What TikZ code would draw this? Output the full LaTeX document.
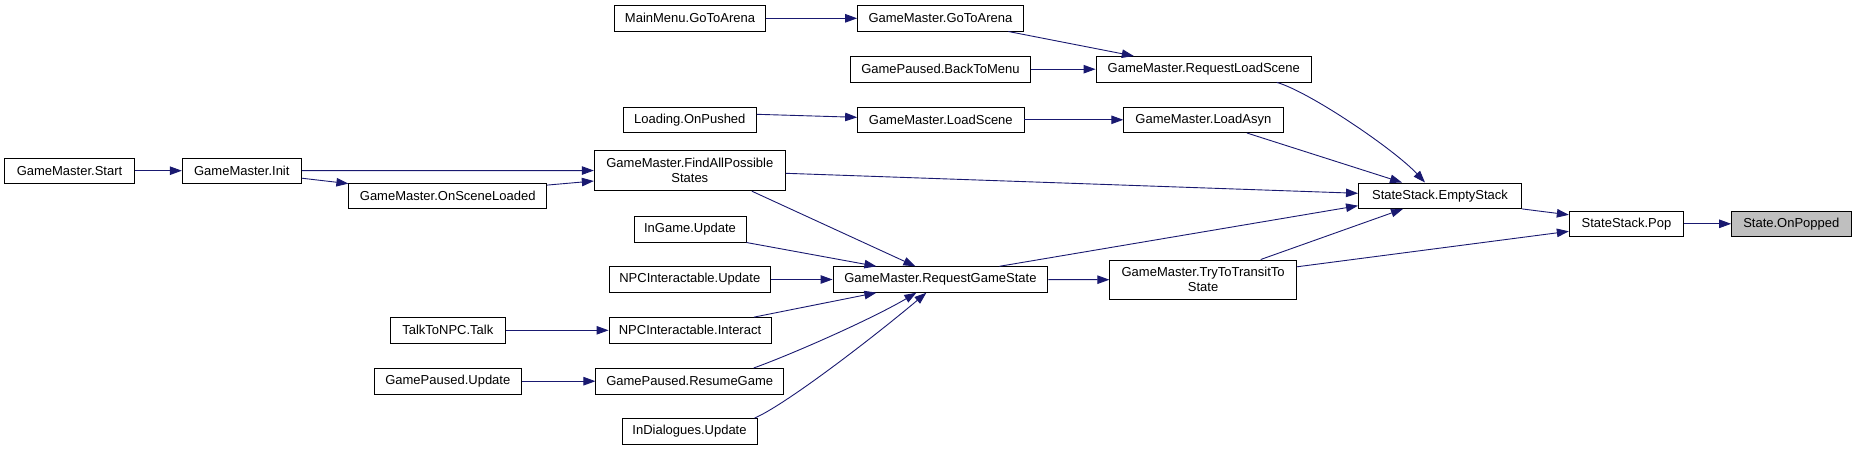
\documentclass[tikz,border=0pt]{standalone}
\usepackage{fontspec}
\setmainfont{Liberation Sans}
\usetikzlibrary{arrows.meta}

\begin{document}
\begin{tikzpicture}[
    x=1pt, y=-1pt,
    fnbox/.style={rectangle, draw=black, fill=white, line width=0.9pt, minimum height=25.5pt, inner sep=1pt, align=center, font=\fontsize{13}{15}\selectfont},
    callarrow/.style={draw=calledge, line width=0.9pt, -{Triangle[length=12pt, width=8.5pt]}}
]

% Colors
\definecolor{calledge}{RGB}{25,25,112}
\definecolor{focusfill}{RGB}{191,191,191}

\useasboundingbox (0,0) rectangle (1856,451);

% Boxes
\node[fnbox, minimum width=129.7pt] (start) at (69.5,170.7) {GameMaster.Start};
\node[fnbox, minimum width=119pt] (init) at (241.8,170.7) {GameMaster.Init};
\node[fnbox, minimum width=197.7pt] (sceneloaded) at (447.7,195.8) {GameMaster.OnSceneLoaded};
\node[fnbox, minimum width=191pt, minimum height=40.4pt] (findstates) at (689.8,170.5) {GameMaster.FindAllPossible\\States};

\node[fnbox, minimum width=150.5pt] (menuarena) at (690,18.3) {MainMenu.GoToArena};
\node[fnbox, minimum width=165.6pt] (gmarena) at (940.4,18.3) {GameMaster.GoToArena};
\node[fnbox, minimum width=180.8pt] (backmenu) at (940.4,69.2) {GamePaused.BackToMenu};
\node[fnbox, minimum width=215.6pt] (reqload) at (1203.8,69.2) {GameMaster.RequestLoadScene};
\node[fnbox, minimum width=133pt] (onpushed) at (689.8,119.8) {Loading.OnPushed};
\node[fnbox, minimum width=166.4pt] (loadscene) at (940.8,119.8) {GameMaster.LoadScene};
\node[fnbox, minimum width=159.3pt] (loadasyn) at (1203.4,119.8) {GameMaster.LoadAsyn};

\node[fnbox, minimum width=163pt] (emptystack) at (1440,195.7) {StateStack.EmptyStack};
\node[fnbox, minimum width=114.4pt] (pop) at (1626.5,223.8) {StateStack.Pop};
\node[fnbox, minimum width=119.4pt, fill=focusfill] (onpopped) at (1791.3,223.8) {State.OnPopped};

\node[fnbox, minimum width=112pt] (ingame) at (690,229.3) {InGame.Update};
\node[fnbox, minimum width=161.5pt] (npcupdate) at (689.8,279.5) {NPCInteractable.Update};
\node[fnbox, minimum width=214.8pt] (reqstate) at (940.4,279.5) {GameMaster.RequestGameState};
\node[fnbox, minimum width=186.6pt, minimum height=39.7pt] (transit) at (1203.1,279.8) {GameMaster.TryToTransitTo\\State};
\node[fnbox, minimum width=115pt] (talk) at (447.8,330.3) {TalkToNPC.Talk};
\node[fnbox, minimum width=162pt] (npcinteract) at (690,330.3) {NPCInteractable.Interact};
\node[fnbox, minimum width=146.7pt] (pausedupdate) at (447.8,381.2) {GamePaused.Update};
\node[fnbox, minimum width=187.6pt] (resume) at (689.7,381.2) {GamePaused.ResumeGame};
\node[fnbox, minimum width=135pt] (dialogues) at (689.5,431.3) {InDialogues.Update};

% Calls
\draw[callarrow] (menuarena) -- (gmarena);
\draw[callarrow] ([xshift=68pt]gmarena.south) -- ([xshift=-70pt]reqload.north);
\draw[callarrow] (backmenu) -- (reqload);
\draw[callarrow] ([xshift=73pt]reqload.south) .. controls (1310,92) and (1395,150) .. ([xshift=-15pt]emptystack.north);
\draw[callarrow] ([yshift=5.5pt]onpushed.east) -- ([yshift=2.5pt]loadscene.west);
\draw[callarrow] (loadscene) -- (loadasyn);
\draw[callarrow] ([xshift=43.5pt]loadasyn.south) -- ([xshift=-38pt]emptystack.north);

\draw[callarrow] (start) -- (init);
\draw[callarrow] (init) -- (findstates);
\draw[callarrow] ([yshift=-7.5pt]init.east) -- ([yshift=-1pt]sceneloaded.north west);
\draw[callarrow] ([yshift=10.7pt]sceneloaded.east) -- ([yshift=-10.5pt]findstates.west);
\draw[callarrow] ([yshift=-2.8pt]findstates.east) -- ([yshift=2.4pt]emptystack.west);
\draw[callarrow] ([xshift=62pt]findstates.south) -- ([xshift=-25pt]reqstate.north);

\draw[callarrow] (ingame.south east) -- ([xshift=-64pt]reqstate.north);
\draw[callarrow] (npcupdate) -- (reqstate);
\draw[callarrow] ([xshift=64pt]npcinteract.north) -- ([xshift=-64pt]reqstate.south);
\draw[callarrow] ([xshift=64pt]resume.north) .. controls (790,355) and (870,320) .. ([xshift=-24pt]reqstate.south);
\draw[callarrow] ([xshift=65pt]dialogues.north) .. controls (785,405) and (870,340) .. ([xshift=-14pt]reqstate.south);
\draw[callarrow] (talk) -- (npcinteract);
\draw[callarrow] (pausedupdate) -- (resume);

\draw[callarrow] (reqstate) -- (transit);
\draw[callarrow] ([xshift=59pt]reqstate.north) -- ([yshift=-10pt]emptystack.west);
\draw[callarrow] ([xshift=57.6pt]transit.north) -- ([xshift=-37pt]emptystack.south);
\draw[callarrow] ([yshift=13pt]transit.east) -- ([yshift=-7.5pt]pop.west);
\draw[callarrow] (emptystack.south east) -- ([yshift=9pt]pop.west);
\draw[callarrow] (pop) -- (onpopped);

\end{tikzpicture}
\end{document}
